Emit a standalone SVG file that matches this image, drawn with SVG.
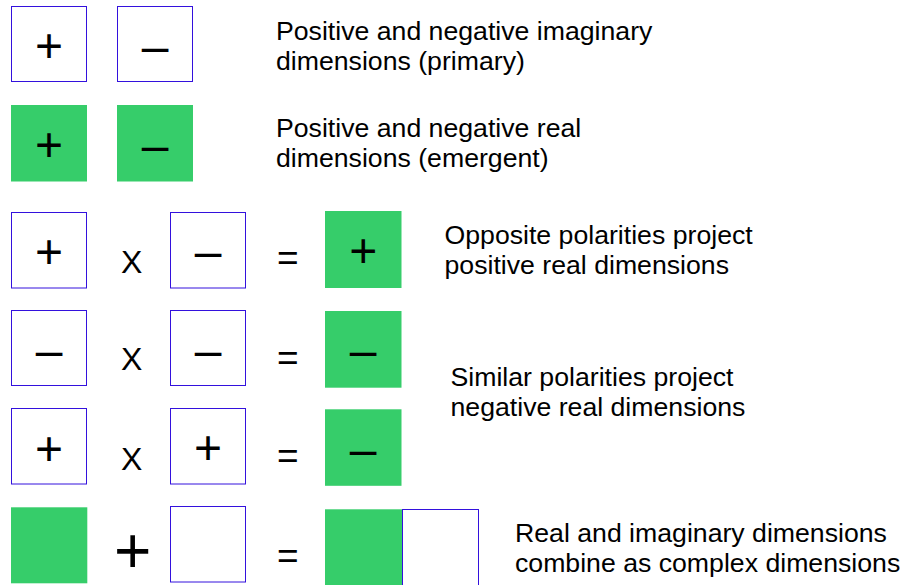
<svg xmlns="http://www.w3.org/2000/svg" width="906" height="585" viewBox="0 0 906 585">
<style>
.im{fill:#ffffff;stroke:#3311dd;stroke-width:1}
.re{fill:#36cd6a;stroke:none}
.sym{font-family:"Liberation Sans",Arial,sans-serif;font-size:48px;fill:#000;text-anchor:middle}
.op{font-family:"Liberation Sans",Arial,sans-serif;fill:#000;text-anchor:middle}
.x{font-size:32px}
.eq{font-size:37px}
.big{font-size:64px}
.lbl{font-family:"Liberation Sans",Arial,sans-serif;font-size:26.67px;fill:#000}
</style>
<rect width="906" height="585" fill="#ffffff"/>

<!-- Row 1 -->
<g id="imag-plus"><rect class="im" x="11.5" y="6.5" width="75" height="75"/><text class="sym" x="49" y="62">+</text></g>
<g id="imag-minus"><rect class="im" x="117.5" y="6.5" width="75" height="75"/><text class="sym" x="155" y="62.5">–</text></g>
<g id="label-imaginary"><text class="lbl" x="276" y="40">Positive and negative imaginary<tspan x="276" y="70">dimensions (primary)</tspan></text></g>

<!-- Row 2 -->
<g id="real-plus"><rect class="re" x="11" y="105" width="76" height="76.5"/><text class="sym" x="49" y="161.2">+</text></g>
<g id="real-minus"><rect class="re" x="117" y="105" width="76" height="76.5"/><text class="sym" x="155" y="161.5">–</text></g>
<g id="label-real"><text class="lbl" x="276" y="136.5">Positive and negative real<tspan x="276" y="166.5">dimensions (emergent)</tspan></text></g>

<!-- Row 3 -->
<g id="r3-a"><rect class="im" x="11.5" y="212.5" width="75" height="75.5"/><text class="sym" x="49" y="267.8">+</text></g>
<g id="r3-x"><text class="op x" x="131.7" y="272.5">X</text></g>
<g id="r3-b"><rect class="im" x="170.5" y="212.5" width="75" height="75.5"/><text class="sym" x="208" y="268.2">–</text></g>
<g id="r3-eq"><text class="op eq" x="287.7" y="269.5">=</text></g>
<g id="r3-res"><rect class="re" x="325" y="211" width="76.5" height="77"/><text class="sym" x="363.2" y="267">+</text></g>
<g id="label-opposite"><text class="lbl" x="444.5" y="244">Opposite polarities project<tspan x="444.5" y="274">positive real dimensions</tspan></text></g>

<!-- Row 4 -->
<g id="r4-a"><rect class="im" x="11.5" y="310.5" width="75" height="75"/><text class="sym" x="49" y="366.5">–</text></g>
<g id="r4-x"><text class="op x" x="131.7" y="370">X</text></g>
<g id="r4-b"><rect class="im" x="170.5" y="310.5" width="75" height="75"/><text class="sym" x="208" y="366.5">–</text></g>
<g id="r4-eq"><text class="op eq" x="287.7" y="370.3">=</text></g>
<g id="r4-res"><rect class="re" x="325" y="311" width="76.5" height="76.7"/><text class="sym" x="363.2" y="367.2">–</text></g>
<g id="label-similar"><text class="lbl" x="450.5" y="386">Similar polarities project<tspan x="450.5" y="416">negative real dimensions</tspan></text></g>

<!-- Row 5 -->
<g id="r5-a"><rect class="im" x="11.5" y="408.5" width="75" height="75.5"/><text class="sym" x="49" y="464.7">+</text></g>
<g id="r5-x"><text class="op x" x="131.7" y="469.5">X</text></g>
<g id="r5-b"><rect class="im" x="170.5" y="408.5" width="75" height="75.5"/><text class="sym" x="208" y="464">+</text></g>
<g id="r5-eq"><text class="op eq" x="287.7" y="467.8">=</text></g>
<g id="r5-res"><rect class="re" x="325" y="409.3" width="76.5" height="76.5"/><text class="sym" x="363.2" y="465.5">–</text></g>

<!-- Row 6 -->
<g id="r6-a"><rect class="re" x="11" y="507.3" width="76.3" height="76"/></g>
<g id="r6-plus"><text class="op big" x="132.7" y="572.6">+</text></g>
<g id="r6-b"><rect class="im" x="170.5" y="506.5" width="75" height="75.5"/></g>
<g id="r6-eq"><text class="op eq" x="287.7" y="567.6">=</text></g>
<g id="r6-res"><rect class="re" x="325" y="509.3" width="77.3" height="78"/><rect class="im" x="402.5" y="509.5" width="76" height="78"/></g>
<g id="label-complex"><text class="lbl" x="515" y="541.5">Real and imaginary dimensions<tspan x="515" y="571.5">combine as complex dimensions</tspan></text></g>
</svg>
